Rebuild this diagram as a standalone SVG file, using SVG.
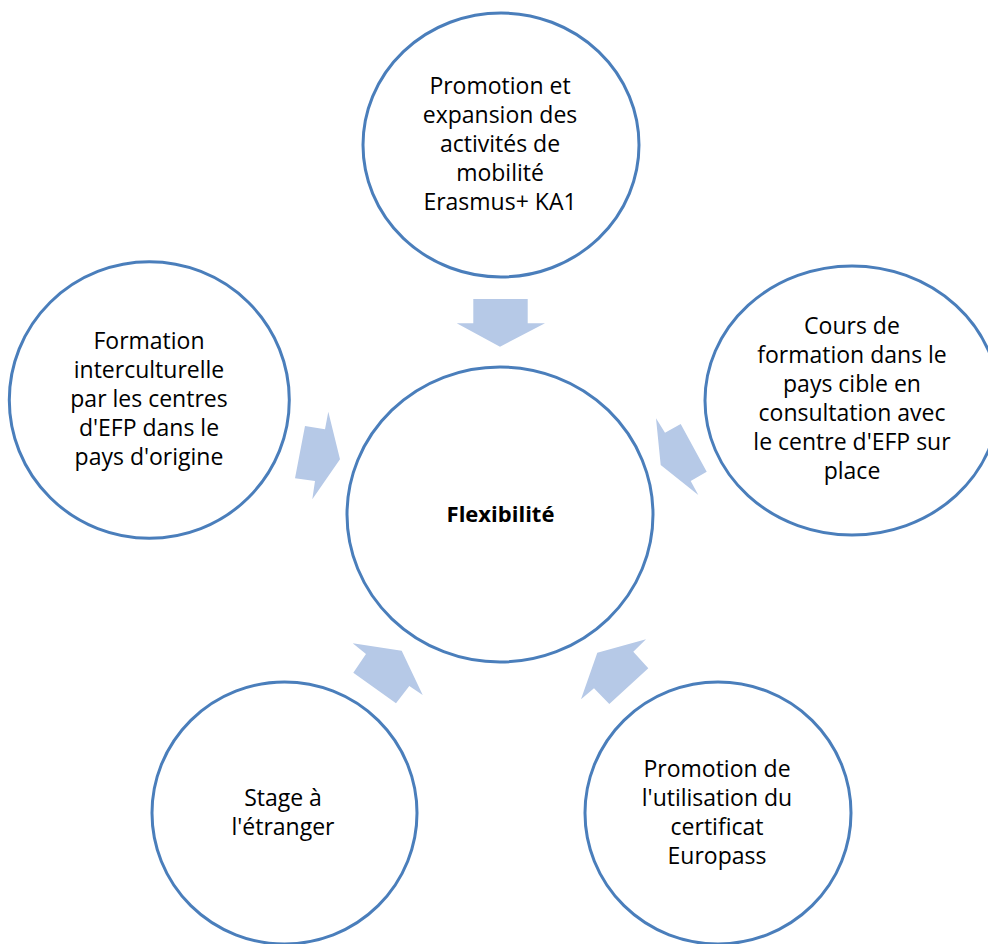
<svg xmlns="http://www.w3.org/2000/svg" width="988" height="944" viewBox="0 0 988 944">
<style>
.c{fill:#fff;stroke:#4a7ebb;stroke-width:3}
.a{fill:#b6c9e7;stroke:none}
.t{font-family:"Open Sans","Liberation Sans",sans-serif;font-size:23px;fill:#000;text-anchor:middle}
.b{font-weight:bold;font-size:22px}
</style>
<rect width="988" height="944" fill="#fff"/>
<g id="connectors">
<polygon class="a" points="473.3,299 527.7,299 527.7,323.3 545,323.3 500,346.7 456.7,323.3 473.3,323.3"/>
<polygon class="a" points="656,418.3 665,432.7 680.7,424 706.7,471.7 690.7,481 698.3,495 660.7,465"/>
<polygon class="a" points="646,639.3 633.3,651.7 648.3,668.3 609.3,704 594,688.3 581,699.3 597.3,652.7"/>
<polygon class="a" points="352.7,643.3 366,654 353.3,672.7 396,703.3 409.3,686 422.7,695 401.7,650.7"/>
<polygon class="a" points="305,426 325,429.3 328.3,411.7 340,459.3 312.3,499.3 315,481 295,478.3"/>
</g>
<g id="node-top">
<ellipse class="c" cx="501" cy="145" rx="138" ry="132"/>
<text class="t"><tspan x="500" y="94">Promotion et</tspan><tspan x="500" y="123">expansion des</tspan><tspan x="500" y="152">activités de</tspan><tspan x="500" y="181">mobilité</tspan><tspan x="500" y="210">Erasmus+ KA1</tspan></text>
</g>
<g id="node-center">
<ellipse class="c" cx="500" cy="514.5" rx="153" ry="147.5"/>
<text class="t b" x="500.5" y="521.5">Flexibilité</text>
</g>
<g id="node-left">
<ellipse class="c" cx="149.3" cy="400" rx="140" ry="138.3"/>
<text class="t"><tspan x="149" y="348.5">Formation</tspan><tspan x="149" y="377.5">interculturelle</tspan><tspan x="149" y="406.5">par les centres</tspan><tspan x="149" y="435.5">d'EFP dans le</tspan><tspan x="149" y="464.5">pays d'origine</tspan></text>
</g>
<g id="node-right">
<ellipse class="c" cx="852" cy="400.5" rx="147" ry="134.5"/>
<text class="t"><tspan x="852" y="334">Cours de</tspan><tspan x="852" y="363">formation dans le</tspan><tspan x="852" y="392">pays cible en</tspan><tspan x="852" y="421">consultation avec</tspan><tspan x="852" y="450">le centre d'EFP sur</tspan><tspan x="852" y="479">place</tspan></text>
</g>
<g id="node-bottom-left">
<ellipse class="c" cx="284.5" cy="813" rx="132.5" ry="131"/>
<text class="t"><tspan x="283" y="806">Stage à</tspan><tspan x="283" y="835">l'étranger</tspan></text>
</g>
<g id="node-bottom-right">
<ellipse class="c" cx="718" cy="813" rx="133" ry="131"/>
<text class="t"><tspan x="717" y="777">Promotion de</tspan><tspan x="717" y="806">l'utilisation du</tspan><tspan x="717" y="835">certificat</tspan><tspan x="717" y="864">Europass</tspan></text>
</g>
</svg>
